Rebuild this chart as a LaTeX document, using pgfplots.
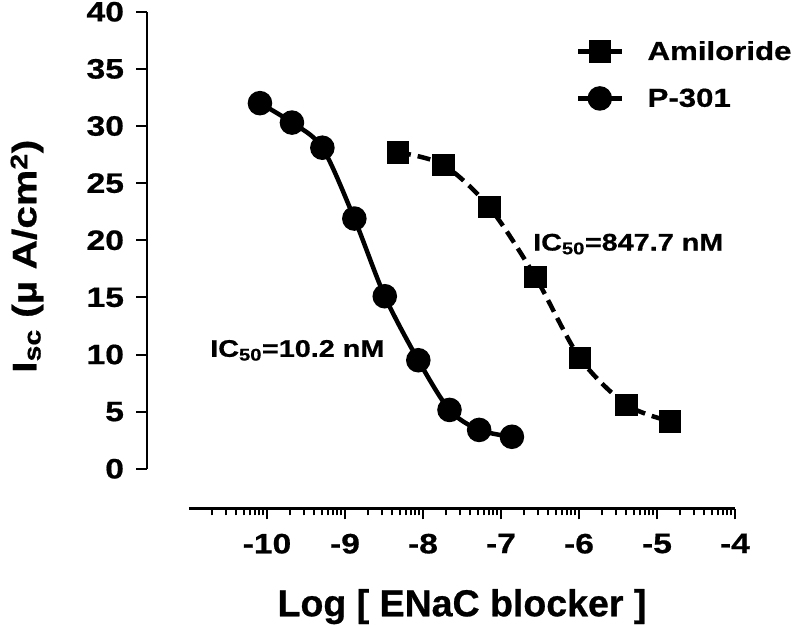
\documentclass[border=0pt]{standalone}
\usepackage{fontspec}
\setmainfont{Liberation Sans}[FakeStretch=1.2, BoldFeatures={FakeBold=0.7}]
\newfontfamily\plainsans{Liberation Sans}[BoldFeatures={FakeBold=0.7}]
\usepackage{pgfplots}
\pgfplotsset{compat=1.18}

% log-style minor ticks in every decade
\def\minorlist{}
\foreach \d in {-11,...,-5}{%
  \foreach \f in {0.30103,0.47712,0.60206,0.69897,0.77815,0.84510,0.90309,0.95424}{%
    \pgfmathparse{\d+\f}%
    \xdef\minorlist{\minorlist\ifx\minorlist\empty\else,\fi\pgfmathresult}%
  }%
}

\newcommand{\ltick}{\bfseries\fontsize{28}{28}\selectfont}
\newcommand{\lleg}{\bfseries\fontsize{26}{26}\selectfont}
\newcommand{\lann}{\bfseries\fontsize{24}{24}\selectfont}
\newcommand{\lxl}{\plainsans\bfseries\fontsize{37.5}{37.5}\selectfont}
\newcommand{\lyl}{\bfseries\fontsize{34}{34}\selectfont}

\begin{document}
\begin{tikzpicture}
\begin{axis}[
  scale only axis,
  width=546pt, height=457pt,
  xmin=-11, xmax=-4, ymin=0, ymax=40,
  axis x line*=bottom, axis y line*=left,
  axis x line shift=40pt, axis y line shift=42pt,
  axis line style={line width=2.6pt},
  xtick={-10,-9,-8,-7,-6,-5,-4},
  xticklabels={-10,-9,-8,-7,-6,-5,-4},
  ytick={0,5,...,40},
  minor xtick/.expand once=\minorlist,
  tick align=outside,
  major tick length=10.5pt, minor tick length=6.5pt,
  every tick/.style={line width=2pt, black},
  /pgf/number format/assume math mode=true,
  tick label style={font=\ltick},
  xticklabel style={yshift=-11pt},
  yticklabel style={xshift=-9pt},
  every axis x label/.style={at={(axis cs:-7.5,0)}, yshift=-147.5pt, anchor=base},
  every axis y label/.style={at={(axis cs:-11,18.6)}, xshift=-162pt, rotate=90, anchor=center},
  xlabel={\lxl Log [ ENaC blocker ]},
  ylabel={\lyl I\textsubscript{sc} (µ A/cm\textsuperscript{2})},
  legend style={at={(axis cs:-6.04,37.45)}, anchor=north west, draw=none, fill=none,
    inner sep=0pt, font=\lleg, row sep=27pt,
    nodes={inner sep=0pt}},
  legend cell align=left,
  /tikz/every odd column/.append style={column sep=24pt},
  legend image code/.code={%
    \draw[#1, solid, mark repeat=2, mark phase=2]
      plot coordinates {(0pt,0pt) (21.5pt,0pt) (43pt,0pt)};},
  clip=false,
]
\addplot[black, line width=4.5pt, dash pattern=on 13pt off 7pt, smooth, tension=0.5,
  mark=square*, mark size=9pt, mark options={solid}]
  coordinates {
    (-8.32,27.7) (-7.74,26.6) (-7.15,22.9) (-6.56,16.8)
    (-5.99,9.7) (-5.39,5.6) (-4.83,4.15)
  };
\addlegendentry{Amiloride}
\addplot[black, line width=4.5pt, smooth, tension=0.5,
  mark=*, mark size=10pt]
  coordinates {
    (-10.09,32.0) (-9.68,30.3) (-9.29,28.1) (-8.88,21.9) (-8.49,15.1)
    (-8.06,9.5) (-7.66,5.15) (-7.28,3.4) (-6.86,2.8)
  };
\addlegendentry{P-301}
\node[font=\lann, anchor=base west, inner sep=0pt] at (axis cs:-6.59,19.1)
  {IC\textsubscript{50}=847.7 nM};
\node[font=\lann, anchor=base west, inner sep=0pt] at (axis cs:-10.73,9.8)
  {IC\textsubscript{50}=10.2 nM};
\coordinate (bbtl) at (axis cs:-13.423,41.03);
\coordinate (bbbr) at (axis cs:-3.269,-13.74);
\end{axis}
\pgfresetboundingbox
\path[use as bounding box] (bbtl) rectangle (bbbr);
\end{tikzpicture}
\end{document}
